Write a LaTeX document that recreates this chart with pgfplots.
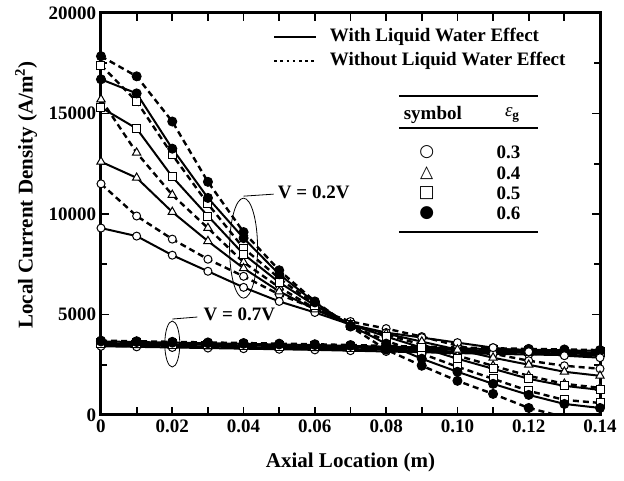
\documentclass[border=0pt]{standalone}
\usepackage{fontspec}
\setmainfont{Liberation Serif}
\newfontfamily\symfont{DejaVu Sans}
\usepackage{pgfplots}
\usepackage{pgfplotstable}
\pgfplotsset{compat=1.18}

% V = 0.2V : s = with liquid water effect, d = without; 3..6 = eps_g 0.3..0.6
\pgfplotstableread{
x     s3    d3    s4    d4    s5    d5    s6    d6
0.00  9300 11500 12600 15700 15300 17400 16700 17850
0.01  8900  9900 11800 13050 14250 15600 16000 16850
0.02  7950  8750 10100 10950 11850 12950 13250 14600
0.03  7150  7750  8650  9300  9900 10500 10800 11600
0.04  6350  6900  7300  7600  8000  8300  8800  9100
0.05  5650  6000  6150  6350  6600  6800  7000  7200
0.06  5100  5300  5250  5300  5450  5500  5600  5650
0.07  4500  4650  4500  4500  4500  4450  4450  4400
0.08  4100  4300  4050  4000  3900  3700  3550  3250
0.09  3850  3900  3650  3500  3350  3050  2800  2450
0.10  3600  3450  3250  2950  2800  2400  2150  1700
0.11  3350  3050  2850  2450  2300  1800  1550  1050
0.12  3150  2700  2500  1950  1800  1200  1000   350
0.13  2950  2450  2150  1550  1450   750   550  -100
0.14  2850  2300  1950  1350  1250   600   350   -50
}\lowv

% V = 0.7V
\pgfplotstableread{
x     s3   d3   s4   d4   s5   d5   s6   d6
0.00  3420 3460 3500 3540 3580 3620 3660 3700
0.01  3390 3430 3470 3510 3550 3590 3630 3670
0.02  3360 3400 3440 3480 3520 3560 3600 3640
0.03  3330 3370 3410 3450 3490 3530 3570 3610
0.04  3300 3340 3380 3420 3460 3500 3540 3580
0.05  3270 3310 3350 3390 3430 3470 3510 3550
0.06  3240 3280 3320 3360 3400 3440 3480 3520
0.07  3200 3240 3280 3320 3360 3400 3440 3480
0.08  3160 3200 3240 3280 3320 3360 3400 3440
0.09  3120 3160 3200 3240 3280 3320 3360 3400
0.10  3080 3120 3160 3200 3240 3280 3320 3360
0.11  3040 3080 3120 3160 3200 3240 3280 3320
0.12  3010 3050 3090 3130 3170 3210 3250 3290
0.13  2980 3020 3060 3100 3140 3180 3220 3260
0.14  2950 2990 3030 3070 3110 3150 3190 3230
}\highv

\newcommand\fs{\bfseries\fontsize{19}{22}\selectfont}
\newcommand\fl{\bfseries\fontsize{21}{24}\selectfont}

\pgfplotsset{
  wl/.style={black, line width=2pt, solid},
  wo/.style={black, line width=2.4pt, dash pattern=on 6pt off 4pt},
  mo/.style={mark=*, mark size=4pt, mark options={solid, fill=white, line width=1pt}},
  mt/.style={mark=triangle*, mark size=4.8pt, mark options={solid, fill=white, line width=1pt}},
  ms/.style={mark=square*, mark size=4pt, mark options={solid, fill=white, line width=1pt}},
  mf/.style={mark=*, mark size=4.5pt, mark options={solid, fill=black, line width=1pt}},
}

\begin{document}
\begin{tikzpicture}
\begin{axis}[
  scale only axis,
  width=499pt, height=402pt,
  xmin=0, xmax=0.14, ymin=0, ymax=20000,
  scaled y ticks=false,
  xtick={0,0.01,0.02,0.03,0.04,0.05,0.06,0.07,0.08,0.09,0.10,0.11,0.12,0.13,0.14},
  xticklabels={0,,0.02,,0.04,,0.06,,0.08,,0.10,,0.12,,0.14},
  ytick={0,5000,10000,15000,20000},
  yticklabels={0,5000,10000,15000,20000},
  minor ytick={2500,7500,12500,17500},
  tick align=inside,
  major tick length=8pt, minor tick length=6pt,
  every tick/.style={black, line width=1.8pt},
  every axis/.append style={line width=3pt},
  axis line style={line width=3pt},
  ticklabel style={font=\fs},
  xlabel={Axial Location (m)},
  ylabel={Local Current Density (A/m\textsuperscript{2})},
  label style={font=\fl},
  xlabel style={at={(axis description cs:0.5,-0.117)}, anchor=center},
  ylabel style={at={(axis description cs:-0.150,0.547)}, anchor=center},
]
% V = 0.7V
\addplot[wo, mo] table[x=x, y=d3]{\highv};
\addplot[wl, mo] table[x=x, y=s3]{\highv};
\addplot[wo, mt] table[x=x, y=d4]{\highv};
\addplot[wl, mt] table[x=x, y=s4]{\highv};
\addplot[wo, ms] table[x=x, y=d5]{\highv};
\addplot[wl, ms] table[x=x, y=s5]{\highv};
\addplot[wo, mf] table[x=x, y=d6]{\highv};
\addplot[wl, mf] table[x=x, y=s6]{\highv};
% V = 0.2V
\addplot[wo, mo] table[x=x, y=d3]{\lowv};
\addplot[wl, mo] table[x=x, y=s3]{\lowv};
\addplot[wo, mt] table[x=x, y=d4]{\lowv};
\addplot[wl, mt] table[x=x, y=s4]{\lowv};
\addplot[wo, ms] table[x=x, y=d5]{\lowv};
\addplot[wl, ms] table[x=x, y=s5]{\lowv};
\addplot[wo, mf] table[x=x, y=d6]{\lowv};
\addplot[wl, mf] table[x=x, y=s6]{\lowv};

% annotations
\draw[line width=0.8pt] (axis cs:0.04,8300) ellipse [x radius=14pt, y radius=50pt];
\draw[line width=0.8pt] (axis cs:0.04,8300) ++(0,50pt) -- ++(30pt,0)
  node[anchor=west, inner sep=4pt, yshift=2pt, font=\fs] {V = 0.2V};
\draw[line width=0.8pt] (axis cs:0.02,3530) ellipse [x radius=7.5pt, y radius=23pt];
\draw[line width=0.8pt] (axis cs:0.02,3530) ++(0,23pt) -- ++(25pt,0)
  node[anchor=west, inner sep=6pt, yshift=3pt, font=\fs] {V = 0.7V};

% line style key
\draw[line width=2.6pt] (axis cs:0.0486,18800) -- (axis cs:0.0604,18800);
\node[anchor=west, inner sep=0pt, font=\fs] at (axis cs:0.0638,18800) {With Liquid Water Effect};
\draw[line width=2.6pt, dash pattern=on 2.6pt off 3.6pt] (axis cs:0.0486,17610) -- (axis cs:0.0604,17610);
\node[anchor=west, inner sep=0pt, font=\fs] at (axis cs:0.0638,17610) {Without Liquid Water Effect};

% symbol table
\draw[line width=1.3pt] (axis cs:0.0836,15870) -- (axis cs:0.1225,15870);
\node[font=\fs] at (axis cs:0.0931,14925) {symbol};
\node[font=\fs] at (axis cs:0.1154,14925) {\textit{\mdseries ε}\textsubscript{g}};
\draw[line width=1.3pt] (axis cs:0.0836,14280) -- (axis cs:0.1225,14280);
\node[font=\symfont\fontsize{17}{17}\selectfont] at (axis cs:0.0914,13085) {○};
\node[font=\symfont\fontsize{17}{17}\selectfont] at (axis cs:0.0914,12040) {△};
\node[font=\symfont\fontsize{17}{17}\selectfont] at (axis cs:0.0914,11045) {□};
\node[font=\symfont\fontsize{17}{17}\selectfont] at (axis cs:0.0914,10050) {●};
\node[font=\fs] at (axis cs:0.1143,13085) {0.3};
\node[font=\fs] at (axis cs:0.1143,12040) {0.4};
\node[font=\fs] at (axis cs:0.1143,11045) {0.5};
\node[font=\fs] at (axis cs:0.1143,10050) {0.6};
\draw[line width=1.3pt] (axis cs:0.0836,9105) -- (axis cs:0.1225,9105);
\end{axis}
\path (current axis.south west) ++(-101pt,-66pt) rectangle ++(624pt,481pt);
\end{tikzpicture}
\end{document}
